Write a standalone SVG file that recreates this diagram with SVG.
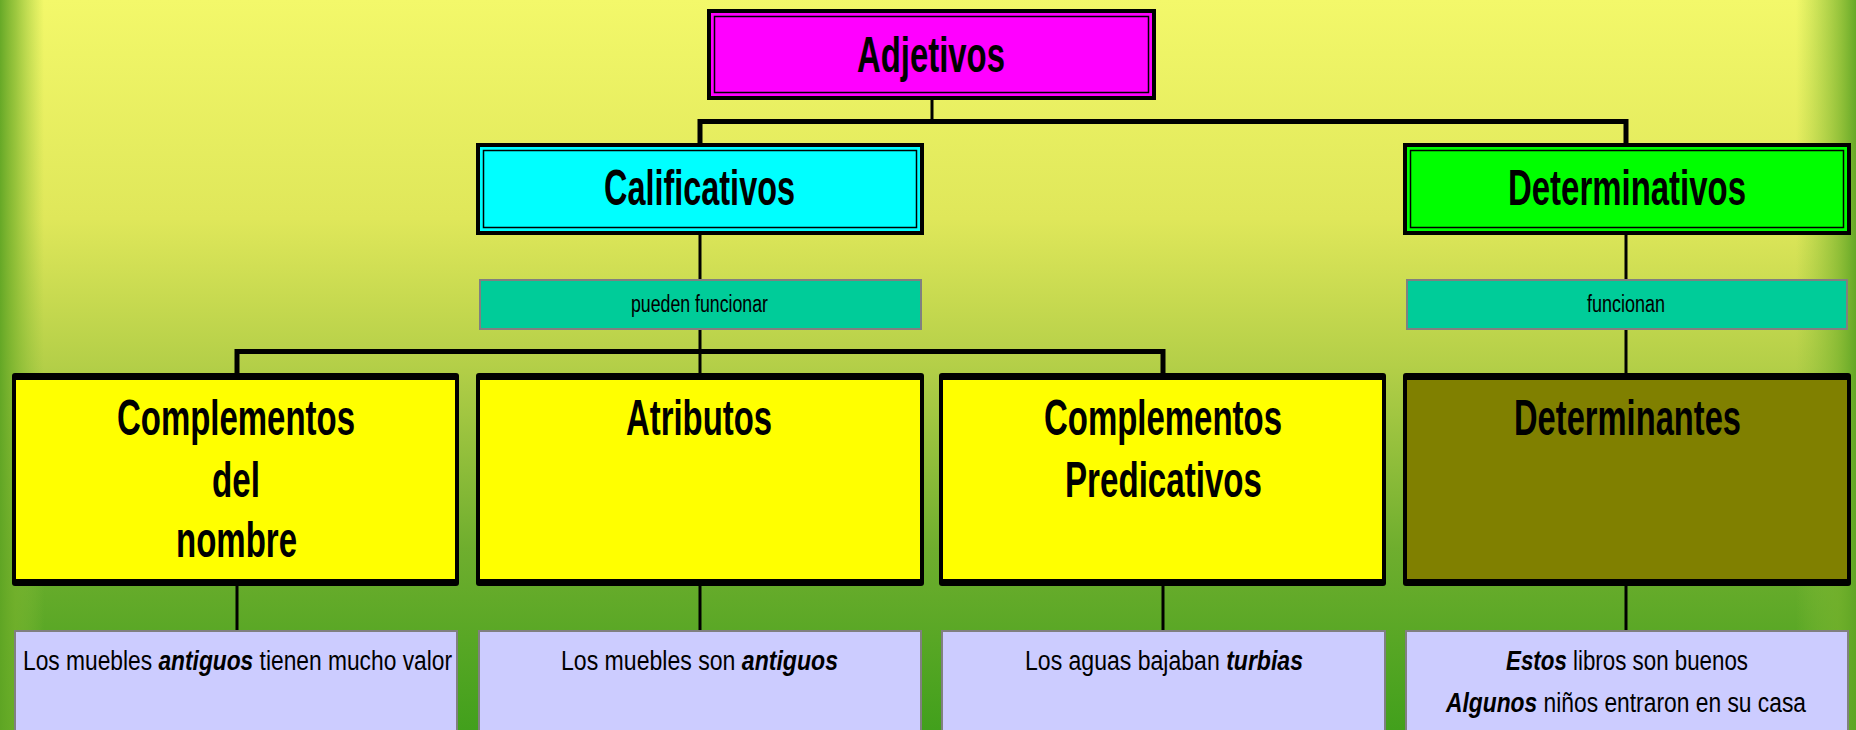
<svg xmlns="http://www.w3.org/2000/svg" width="1856" height="730" viewBox="0 0 1856 730">
<defs>
<linearGradient id="bg" x1="0" y1="0" x2="0" y2="1">
<stop offset="0" stop-color="#f3f86a"/>
<stop offset="0.3" stop-color="#dfe75a"/>
<stop offset="0.5" stop-color="#b4cf48"/>
<stop offset="0.75" stop-color="#6fae2e"/>
<stop offset="1" stop-color="#42a01c"/>
</linearGradient>
<linearGradient id="edgeL" x1="0" y1="0" x2="1" y2="0">
<stop offset="0" stop-color="#5fa524" stop-opacity="0.95"/>
<stop offset="0.35" stop-color="#76b22c" stop-opacity="0.7"/>
<stop offset="1" stop-color="#8cc03a" stop-opacity="0"/>
</linearGradient>
<linearGradient id="edgeR" x1="1" y1="0" x2="0" y2="0">
<stop offset="0" stop-color="#5fa524" stop-opacity="0.95"/>
<stop offset="0.3" stop-color="#76b22c" stop-opacity="0.7"/>
<stop offset="1" stop-color="#8cc03a" stop-opacity="0"/>
</linearGradient>
</defs>
<style>
.t{font-family:"Liberation Sans",Arial,sans-serif;fill:#000}
.big{font-size:50px;font-weight:bold}
.sm{font-size:23px}
.ex{font-size:27px}
.bi{font-weight:bold;font-style:italic}
.outer{stroke:#000;stroke-width:4}
.inner{fill:none;stroke:#000;stroke-width:1.5}
.lab{fill:#00cc99;stroke:#808080;stroke-width:2}
.exbox{fill:#ccccff;stroke:#808080;stroke-width:2}
.frame{fill:#000}
.ln{stroke:#000;stroke-width:3;fill:none}
.bar{stroke:#000;stroke-width:5;fill:none}
</style>
<rect x="0" y="0" width="1856" height="730" fill="url(#bg)"/>
<rect x="0" y="0" width="44" height="730" fill="url(#edgeL)"/>
<rect x="1796" y="0" width="60" height="730" fill="url(#edgeR)"/>

<g id="connectors">
<line class="ln" x1="932" y1="100" x2="932" y2="121"/>
<polyline class="bar" points="700,143 700,121.5 1626,121.5 1626,143"/>
<line class="ln" x1="700" y1="235" x2="700" y2="279"/>
<line class="ln" x1="1626" y1="235" x2="1626" y2="279"/>
<line class="ln" x1="700" y1="329" x2="700" y2="373"/>
<line class="ln" x1="1626" y1="329" x2="1626" y2="373"/>
<polyline class="bar" points="237,373 237,351.5 1163,351.5 1163,373"/>
<line class="ln" x1="237" y1="586" x2="237" y2="630"/>
<line class="ln" x1="700" y1="586" x2="700" y2="630"/>
<line class="ln" x1="1163" y1="586" x2="1163" y2="630"/>
<line class="ln" x1="1626" y1="586" x2="1626" y2="630"/>
</g>

<g id="adjetivos">
<rect class="outer" x="709" y="11" width="445" height="87" fill="#ff00ff"/>
<rect class="inner" x="714.5" y="16.5" width="434" height="76"/>
<text class="t big" x="857" y="72" textLength="148" lengthAdjust="spacingAndGlyphs">Adjetivos</text>
</g>

<g id="calificativos">
<rect class="outer" x="478" y="145" width="444" height="88" fill="#00ffff"/>
<rect class="inner" x="483.5" y="150.5" width="433" height="77"/>
<text class="t big" x="604" y="205" textLength="191" lengthAdjust="spacingAndGlyphs">Calificativos</text>
</g>

<g id="determinativos">
<rect class="outer" x="1405" y="145" width="444" height="88" fill="#00ff00"/>
<rect class="inner" x="1410.5" y="150.5" width="433" height="77"/>
<text class="t big" x="1508" y="205" textLength="238" lengthAdjust="spacingAndGlyphs">Determinativos</text>
</g>

<g id="pueden-funcionar">
<rect class="lab" x="480" y="280" width="441" height="49"/>
<text class="t sm" x="631" y="312" textLength="137" lengthAdjust="spacingAndGlyphs">pueden funcionar</text>
</g>

<g id="funcionan">
<rect class="lab" x="1407" y="280" width="440" height="49"/>
<text class="t sm" x="1587" y="312" textLength="78" lengthAdjust="spacingAndGlyphs">funcionan</text>
</g>

<g id="complementos-nombre">
<rect class="frame" x="12" y="373" width="447" height="213" rx="3"/>
<rect x="16" y="380" width="439" height="199" fill="#ffff00"/>
<text class="t big" x="117" y="435" textLength="238" lengthAdjust="spacingAndGlyphs">Complementos</text>
<text class="t big" x="212" y="497" textLength="48" lengthAdjust="spacingAndGlyphs">del</text>
<text class="t big" x="176" y="557" textLength="121" lengthAdjust="spacingAndGlyphs">nombre</text>
</g>

<g id="atributos">
<rect class="frame" x="476" y="373" width="448" height="213" rx="3"/>
<rect x="480" y="380" width="440" height="199" fill="#ffff00"/>
<text class="t big" x="626" y="435" textLength="146" lengthAdjust="spacingAndGlyphs">Atributos</text>
</g>

<g id="complementos-predicativos">
<rect class="frame" x="939" y="373" width="447" height="213" rx="3"/>
<rect x="943" y="380" width="439" height="199" fill="#ffff00"/>
<text class="t big" x="1044" y="435" textLength="238" lengthAdjust="spacingAndGlyphs">Complementos</text>
<text class="t big" x="1065" y="497" textLength="197" lengthAdjust="spacingAndGlyphs">Predicativos</text>
</g>

<g id="determinantes">
<rect class="frame" x="1403" y="373" width="448" height="213" rx="3"/>
<rect x="1407" y="380" width="440" height="199" fill="#808000"/>
<text class="t big" x="1514" y="435" textLength="227" lengthAdjust="spacingAndGlyphs">Determinantes</text>
</g>

<g id="ej-nombre">
<rect class="exbox" x="15" y="631" width="442" height="110"/>
<text class="t ex" x="23" y="670" textLength="429" lengthAdjust="spacingAndGlyphs">Los muebles <tspan class="bi">antiguos</tspan> tienen mucho valor</text>
</g>

<g id="ej-atributos">
<rect class="exbox" x="479" y="631" width="442" height="110"/>
<text class="t ex" x="561" y="670" textLength="277" lengthAdjust="spacingAndGlyphs">Los muebles son <tspan class="bi">antiguos</tspan></text>
</g>

<g id="ej-predicativos">
<rect class="exbox" x="942" y="631" width="443" height="110"/>
<text class="t ex" x="1025" y="670" textLength="278" lengthAdjust="spacingAndGlyphs">Los aguas bajaban <tspan class="bi">turbias</tspan></text>
</g>

<g id="ej-determinantes">
<rect class="exbox" x="1406" y="631" width="442" height="110"/>
<text class="t ex" x="1506" y="670" textLength="242" lengthAdjust="spacingAndGlyphs"><tspan class="bi">Estos</tspan> libros son buenos</text>
<text class="t ex" x="1446" y="712" textLength="360" lengthAdjust="spacingAndGlyphs"><tspan class="bi">Algunos</tspan> niños entraron en su casa</text>
</g>
</svg>
